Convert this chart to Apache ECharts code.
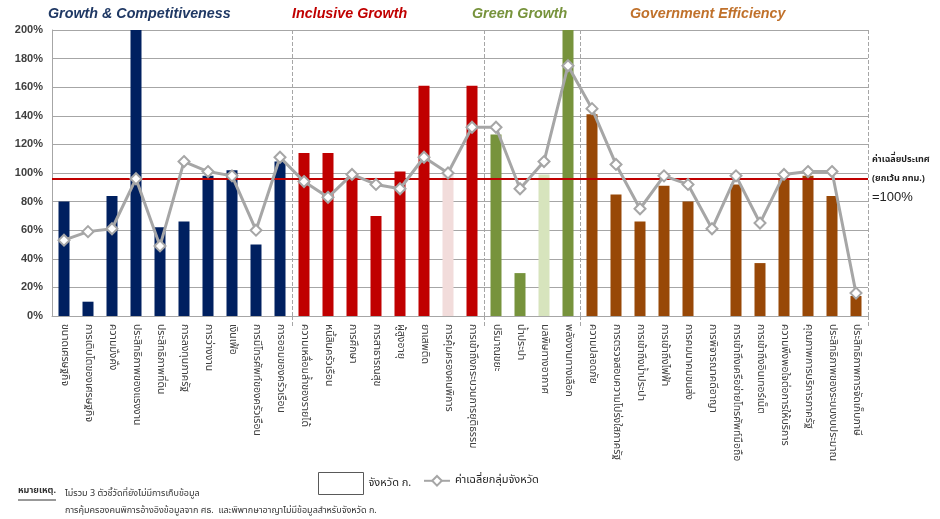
<!DOCTYPE html>
<html>
<head>
<meta charset="utf-8">
<script src="https://cdn.jsdelivr.net/npm/echarts@6/dist/echarts.min.js"></script>
<style>
  html, body { margin: 0; padding: 0; background: #fff; }
  #chart1 { width: 940px; height: 519px; }
</style>
</head>
<body>
<div id="chart1"></div>
<script>
// ตัวชี้วัดรายกลุ่ม: จังหวัด ก. เทียบค่าเฉลี่ยกลุ่มจังหวัด (ค่าเฉลี่ยประเทศ = 100%)
const Data_Groups = ['Growth & Competitiveness', 'Inclusive Growth', 'Green Growth', 'Government Efficiency'];
const Data_GroupSize = [10, 8, 4, 12];

const Data_Indicators = [
  'ขนาดเศรษฐกิจ', 'การเติบโตของเศรษฐกิจ', 'ความมั่งคั่ง', 'ประสิทธิภาพของแรงงาน', 'ประสิทธิภาพที่ดิน',
  'การลงทุนภาครัฐ', 'การว่างงาน', 'เงินเฟ้อ', 'การมีโทรศัพท์ของครัวเรือน', 'การออมของครัวเรือน',
  'ความเหลื่อมล้ำของรายได้', 'หนี้สินครัวเรือน', 'การศึกษา', 'การสาธารณสุข', 'ผู้สูงอายุ',
  'ยาเสพติด', 'การคุ้มครองคนพิการ', 'การเข้าถึงกระบวนการยุติธรรม',
  'ปริมาณขยะ', 'น้ำประปา', 'มลพิษทางอากาศ', 'พลังงานทางเลือก',
  'ความปลอดภัย', 'การตรวจสอบความโปร่งใสภาครัฐ', 'การเข้าถึงน้ำประปา', 'การเข้าถึงไฟฟ้า',
  'การคมนาคมขนส่ง', 'การพิจารณาคดีอาญา', 'การเข้าถึงเครือข่ายโทรศัพท์มือถือ', 'การเข้าถึงอินเทอร์เน็ต',
  'ความพึงพอใจต่อการให้บริการ', 'คุณภาพการบริการภาครัฐ', 'ประสิทธิภาพของระบบงบประมาณ', 'ประสิทธิภาพการจัดเก็บภาษี'
];

// จังหวัด ก. (%)
const Data_Province = [
  80, 10, 84, 200, 62, 66, 98, 102, 50, 108,
  114, 114, 97, 70, 101, 161, 100, 161,
  127, 30, 99, 200,
  141, 85, 66, 91, 80, null, 92, 37, 96, 98, 84, 14
];

// ค่าเฉลี่ยกลุ่มจังหวัด (%)
const Data_GroupAvg = [
  53, 59, 61, 96, 49, 108, 101, 98, 60, 111,
  94, 83, 99, 92, 89, 111, 100, 132,
  132, 89, 108, 175,
  145, 106, 75, 98, 92, 61, 98, 65, 99, 101, 101, 16
];

const Data_CountryAvg = 96;
const Data_YTicks = { min: 0, max: 200, step: 20 };

function renderChart1() {
  const dom = document.getElementById('chart1');
  const chart = echarts.init(dom);

  const groupColors = ['#002060', '#c00000', '#77933c', '#984807'];
  const paleColors = ['#002060', '#f2dcdb', '#d7e4bd', '#984807'];
  const titleColors = ['#1f3864', '#c00000', '#77933c', '#c0712b'];
  const paleIdx = [16, 20];

  // กลุ่มของแต่ละตัวชี้วัด และจุดแบ่งกลุ่ม
  const groupOf = [];
  const bounds = [];
  let start = 0;
  Data_GroupSize.forEach((n, g) => {
    for (let i = 0; i < n; i++) groupOf.push(g);
    start += n;
    bounds.push(start);
  });

  const barData = Data_Province.map((v, i) => ({
    value: v == null ? '-' : v,
    itemStyle: {
      color: paleIdx.includes(i) ? paleColors[groupOf[i]] : groupColors[groupOf[i]],
      borderWidth: 0,
    },
  }));

  const thaiFont = "'Noto Sans Thai', 'Noto Sans', 'DejaVu Sans', sans-serif";
  const titleX = [48, 292, 472, 630];

  const option = {
    animation: false,
    grid: {
      left: 52,
      right: 72,
      top: 30,
      bottom: 203,
    },
    graphic: Data_Groups.map((name, g) => ({
      type: 'text',
      left: titleX[g],
      top: 7,
      style: {
        text: name,
        fill: titleColors[g],
        font: 'italic bold 14.3px "Liberation Sans", Arial, sans-serif',
      },
    })).concat([
      {
        type: 'text',
        left: 18,
        top: 487,
        style: {
          text: 'หมายเหตุ.',
          fill: '#333',
          font: 'bold 9px ' + thaiFont,
        },
      },
      {
        type: 'line',
        shape: { x1: 18, y1: 500, x2: 56, y2: 500 },
        style: { stroke: '#333', lineWidth: 1 },
      },
      {
        type: 'text',
        left: 65,
        top: 486,
        style: {
          text: 'ไม่รวม 3 ตัวชี้วัดที่ยังไม่มีการเก็บข้อมูล\nการคุ้มครองคนพิการอ้างอิงข้อมูลจาก ศธ.  และพิพากษาอาญาไม่มีข้อมูลสำหรับจังหวัด ก.',
          fill: '#333',
          font: '9px ' + thaiFont,
          lineHeight: 17,
        },
      },
    ]),
    legend: [
      {
        data: [{
          name: 'จังหวัด ก.',
          icon: 'rect',
          itemStyle: { color: '#fff', borderColor: '#595959', borderWidth: 1 },
        }],
        left: 313,
        top: 467,
        itemWidth: 45,
        itemHeight: 22,
        textStyle: { fontSize: 11, color: '#222', fontFamily: thaiFont },
      },
      {
        data: ['ค่าเฉลี่ยกลุ่มจังหวัด'],
        left: 418,
        top: 470,
        itemWidth: 26,
        itemHeight: 12,
        textStyle: { fontSize: 11, color: '#222', fontFamily: thaiFont },
      },
    ],
    xAxis: [
      {
        type: 'category',
        data: Data_Indicators,
        axisLine: { lineStyle: { color: '#a6a6a6' } },
        axisTick: {
          show: true,
          length: 10,
          interval: (idx) => idx === 0 ? false : bounds.includes(idx),
          lineStyle: { color: '#a6a6a6', type: 'dashed' },
        },
        splitLine: {
          show: true,
          interval: (idx) => idx === 0 ? false : bounds.includes(idx),
          lineStyle: { color: '#a6a6a6', type: 'dashed' },
        },
        axisLabel: {
          interval: 0,
          rotate: -90,
          fontSize: 10.5,
          color: '#404040',
          fontFamily: thaiFont,
          margin: 8,
        },
      }
    ],
    yAxis: [
      {
        type: 'value',
        min: Data_YTicks.min,
        max: Data_YTicks.max,
        interval: Data_YTicks.step,
        axisLine: { show: true, lineStyle: { color: '#a6a6a6' } },
        axisTick: { show: false },
        axisLabel: {
          formatter: '{value}%',
          fontSize: 11,
          fontWeight: 'bold',
          color: '#404040',
          fontFamily: "'Liberation Sans', Arial, sans-serif",
          margin: 9,
        },
        splitLine: { lineStyle: { color: '#a6a6a6', width: 1 } },
      }
    ],
    series: [
      {
        name: 'จังหวัด ก.',
        type: 'bar',
        barWidth: 11,
        data: barData,
        markLine: {
          silent: true,
          symbol: 'none',
          lineStyle: { color: '#c00000', width: 2, type: 'solid' },
          label: {
            position: 'end',
            distance: 4,
            formatter: '{a|ค่าเฉลี่ยประเทศ}\n{a|(ยกเว้น กทม.)}\n{b|=100%}',
            rich: {
              a: { fontSize: 9, color: '#222', fontFamily: thaiFont, lineHeight: 19, fontWeight: 'bold' },
              b: { fontSize: 13, color: '#222', fontFamily: "'Liberation Sans', Arial, sans-serif", lineHeight: 19 },
            },
          },
          data: [{ yAxis: Data_CountryAvg }],
        },
      },
      {
        name: 'ค่าเฉลี่ยกลุ่มจังหวัด',
        type: 'line',
        data: Data_GroupAvg,
        z: 5,
        symbol: 'diamond',
        symbolSize: 11,
        lineStyle: { color: '#a6a6a6', width: 3 },
        itemStyle: { color: '#fff', borderColor: '#a6a6a6', borderWidth: 2 },
      },
    ]
  };
  chart.setOption(option, true);
}

renderChart1();
</script>
</body>
</html>
